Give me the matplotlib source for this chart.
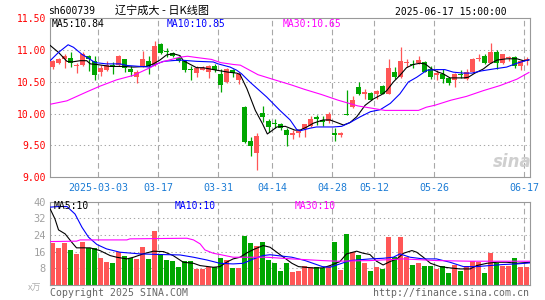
import numpy as np
import matplotlib
matplotlib.use('Agg')
import matplotlib.pyplot as plt

# dagkoersen sh600739, 2025-02-19 t/m 2025-06-17 (80 handelsdagen)
opens = [10.73, 10.80, 10.85, 10.875, 10.745, 10.76, 10.90, 10.82, 10.65, 10.69,
         10.765, 10.76, 10.85, 10.70, 10.575, 10.75, 10.82, 10.76, 11.09, 10.975,
         10.95, 10.88, 10.82, 10.70, 10.64, 10.69, 10.66, 10.75, 10.625, 10.495,
         10.68, 10.52, 10.10, 9.57, 9.375, 10.01, 9.885, 9.86, 9.83, 9.74,
         9.66, 9.70, 9.755, 9.80, 9.95, 9.90, 9.88, 9.70, 9.66, 10.00,
         10.10, 10.41, 10.30, 10.32, 10.31, 10.43, 10.31, 10.66, 10.575, 10.79,
         10.78, 10.79, 10.81, 10.70, 10.60, 10.625, 10.555, 10.52, 10.625, 10.545,
         10.65, 10.85, 10.90, 10.80, 10.97, 10.80, 10.87, 10.885, 10.74, 10.84]
highs = [10.84, 10.875, 10.94, 10.96, 10.80, 10.96, 10.92, 10.91, 10.755, 10.82,
         10.81, 10.92, 10.86, 10.74, 10.69, 10.98, 10.90, 11.135, 11.10, 11.035,
         10.97, 10.90, 10.83, 10.745, 10.74, 10.74, 10.755, 10.78, 10.70, 10.72,
         10.70, 10.65, 10.12, 9.635, 9.70, 10.115, 9.92, 9.92, 9.845, 9.77,
         9.74, 9.76, 9.84, 9.96, 9.98, 9.96, 10.02, 9.77, 9.71, 10.375,
         10.28, 10.495, 10.39, 10.34, 10.375, 10.445, 10.86, 10.73, 11.04, 10.86,
         10.845, 10.91, 10.82, 10.74, 10.69, 10.70, 10.58, 10.635, 10.68, 10.70,
         10.88, 10.93, 10.93, 11.10, 10.99, 10.94, 10.91, 10.90, 10.84, 10.89]
lows = [10.70, 10.78, 10.71, 10.73, 10.635, 10.75, 10.67, 10.53, 10.595, 10.67,
        10.62, 10.75, 10.645, 10.595, 10.48, 10.73, 10.625, 10.745, 10.94, 10.89,
        10.885, 10.81, 10.66, 10.53, 10.57, 10.68, 10.56, 10.66, 10.34, 10.48,
        10.57, 10.47, 9.545, 9.34, 9.115, 9.87, 9.71, 9.77, 9.74, 9.495,
        9.60, 9.625, 9.63, 9.79, 9.82, 9.81, 9.86, 9.57, 9.635, 9.97,
        10.09, 10.285, 10.235, 10.21, 10.235, 10.30, 10.30, 10.545, 10.555, 10.73,
        10.72, 10.78, 10.65, 10.545, 10.53, 10.485, 10.445, 10.415, 10.555, 10.52,
        10.64, 10.82, 10.78, 10.79, 10.70, 10.78, 10.83, 10.72, 10.68, 10.77]
closes = [10.83, 10.85, 10.90, 10.80, 10.755, 10.93, 10.86, 10.61, 10.715, 10.76,
          10.74, 10.90, 10.72, 10.65, 10.66, 10.85, 10.75, 11.06, 10.95, 10.96,
          10.91, 10.83, 10.68, 10.68, 10.71, 10.72, 10.74, 10.68, 10.445, 10.70,
          10.64, 10.625, 9.555, 9.495, 9.646, 9.94, 9.79, 9.84, 9.78, 9.66,
          9.69, 9.73, 9.83, 9.92, 9.91, 9.87, 9.99, 9.66, 9.70, 9.98,
          10.21, 10.30, 10.34, 10.22, 10.355, 10.31, 10.715, 10.575, 10.825, 10.81,
          10.77, 10.845, 10.66, 10.575, 10.635, 10.545, 10.475, 10.625, 10.61, 10.65,
          10.86, 10.87, 10.80, 10.965, 10.80, 10.93, 10.885, 10.74, 10.82, 10.86]

# volume (x万)
vols = [20.0, 17.6, 20.0, 16.6, 14.7, 20.5, 17.8, 17.6, 13.1, 11.0,
        10.4, 16.0, 14.1, 12.8, 12.3, 18.1, 12.3, 25.8, 14.6, 12.0,
        11.4, 8.5, 11.7, 11.7, 7.5, 7.5, 8.5, 8.5, 12.8, 12.2,
        8.0, 8.0, 23.4, 20.0, 18.9, 20.5, 12.0, 10.4, 6.9, 10.4,
        6.4, 6.9, 9.1, 8.6, 8.6, 8.3, 9.0, 20.8, 7.4, 24.6,
        15.8, 14.6, 10.7, 6.9, 8.8, 7.8, 23.2, 13.4, 23.2, 13.3,
        9.8, 10.7, 9.3, 9.3, 7.8, 9.3, 5.9, 9.8, 6.9, 9.1,
        11.5, 10.9, 5.9, 15.5, 10.4, 9.3, 9.3, 13.1, 8.8, 8.8]

# datumlabels (index van de handelsdag)
tick_idx = [8, 18, 28, 37, 47, 54, 64, 79]
tick_labels = ['2025-03-03', '03-17', '03-31', '04-14', '04-28', '05-12', '05-26', '06-17']

# gemiddelde lijnen (index, waarde)
ma5_x = [-0.4, 1, 2.4, 3.2, 4.6, 5.7, 6.3, 7.4, 9.6, 11.8, 13.5, 15.7, 16.8, 17.9, 19, 20.1,
         21.25, 21.8, 24, 25.1, 27.4, 29.3, 30.7, 31.25, 32.4, 33.8, 35, 35.8, 36.25, 37.4,
         38.8, 39.6, 40.4, 41.25, 42.4, 43.5, 45.1, 46.25, 47.4, 48.5, 49.6, 50.7, 52.1,
         53.5, 54.9, 55.7, 56.8, 57.9, 59, 60.1, 61.25, 62.1, 63.2, 64.3, 65.1, 66.25,
         67.4, 68.5, 69.3, 70.4, 71.8, 72.9, 74.1, 75.7, 77.4, 78.5, 79.4]
ma5_y = [11.07, 10.96, 10.82, 10.81, 10.83, 10.83, 10.78, 10.77, 10.74, 10.74, 10.73, 10.74,
         10.78, 10.84, 10.92, 10.94, 10.91, 10.83, 10.72, 10.72, 10.68, 10.65, 10.635, 10.615,
         10.39, 10.05, 9.84, 9.68, 9.71, 9.79, 9.80, 9.77, 9.74, 9.74, 9.79, 9.85, 9.90, 9.90,
         9.86, 9.82, 9.86, 9.95, 10.13, 10.23, 10.30, 10.36, 10.495, 10.60, 10.72, 10.77,
         10.79, 10.78, 10.70, 10.65, 10.625, 10.56, 10.56, 10.56, 10.57, 10.635, 10.70, 10.78,
         10.84, 10.86, 10.86, 10.83, 10.84]
ma10_x = [-0.4, 1, 2.6, 3.5, 4.9, 5.7, 7.1, 9, 11.25, 12.4, 14.6, 16.25, 17.4, 18.5, 21.25,
          24, 26.8, 27.6, 29.6, 30.7, 31.5, 32.9, 35.7, 37.9, 39.6, 40.7, 41.25, 42.9, 44,
          46.8, 48.2, 49.6, 51.3, 53, 54.6, 56.3, 57.9, 59.3, 60.7, 62.4, 64.0, 65.4, 66.8,
          68.5, 69.9, 71.5, 73.5, 75.7, 77.4, 79.4]
ma10_y = [10.83, 10.96, 11.08, 11.04, 10.93, 10.885, 10.80, 10.78, 10.78, 10.755, 10.74,
          10.73, 10.78, 10.82, 10.84, 10.82, 10.81, 10.78, 10.73, 10.68, 10.625, 10.495,
          10.26, 10.05, 9.90, 9.75, 9.73, 9.77, 9.79, 9.79, 9.80, 9.86, 9.95, 10.03, 10.06,
          10.16, 10.31, 10.495, 10.57, 10.68, 10.69, 10.69, 10.65, 10.635, 10.635, 10.67,
          10.70, 10.73, 10.79, 10.845]
ma30_x = [-0.4, 2.4, 5.7, 7.9, 10.7, 13.5, 16.25, 17.9, 19.6, 21.25, 22.5, 24, 26.5, 28,
          30.2, 31.3, 34.25, 37, 39.8, 42, 44.8, 47.6, 50.9, 53.5, 55.4, 61, 62.3, 63.7,
          66.4, 69, 71.8, 74.6, 77.4, 79.4]
ma30_y = [10.146, 10.20, 10.34, 10.43, 10.53, 10.60, 10.72, 10.80, 10.845, 10.885, 10.90,
          10.88, 10.85, 10.80, 10.77, 10.76, 10.61, 10.53, 10.45, 10.38, 10.30, 10.21,
          10.12, 10.08, 10.05, 10.05, 10.10, 10.13, 10.21, 10.27, 10.36, 10.44, 10.54, 10.645]

vma5_x = [-0.4, 0.4, 1, 2.1, 3.2, 4, 6.25, 7.9, 9.6, 10.7, 12.4, 13.5, 15.1, 16.8, 18.5,
          20.1, 21.8, 23.5, 24.6, 26.8, 27.9, 29, 30.1, 31.25, 32.4, 33.5, 35.1, 36.25,
          37.9, 39.9, 41, 43.3, 45, 46.25, 47.9, 49, 50.7, 51.8, 52.9, 54, 55.1, 56.25,
          57.4, 58.5, 59.9, 60.7, 61.8, 63, 64.6, 66.25, 67.9, 69.6, 70.7, 72.4, 74.1,
          75.7, 77.4, 79.6]
vma5_y = [36.5, 31.7, 26.4, 24.5, 20.5, 17.8, 17.8, 16.5, 14.1, 13.3, 12.5, 13.3, 14.9,
          16.2, 16.0, 14.1, 10.9, 10.4, 9.3, 8.5, 8.8, 10.9, 12.5, 13.3, 15.4, 17.0, 18.9,
          18.1, 14.6, 10.4, 8.8, 8.2, 8.2, 9.3, 11.2, 14.9, 16.2, 15.2, 14.6, 11.4, 9.6,
          11.2, 12.5, 15.2, 16.5, 15.7, 13.3, 10.4, 8.8, 8.2, 7.7, 7.7, 9.3, 10.4, 10.9,
          10.9, 10.4, 10.9]
vma10_x = [-0.4, 1, 2.4, 3.75, 4.9, 6, 7.4, 9, 11.25, 14.6, 17.9, 21.25, 23.5, 25.7, 27.9,
           30.1, 31.8, 33.5, 35.1, 36.25, 39.9, 42.1, 45, 46.25, 47.9, 49.6, 52.9, 55.1,
           56.8, 57.9, 59.6, 61.8, 64, 66.25, 68.5, 70.7, 72.8, 75, 77.4, 79.6]
vma10_y = [37.3, 37.6, 37.6, 34.0, 27.7, 22.9, 19.4, 17.3, 15.7, 14.9, 14.6, 14.4, 13.3,
           12.0, 10.4, 10.1, 10.4, 12.5, 14.1, 14.5, 13.3, 11.7, 8.8, 8.5, 10.1, 11.7, 12.5,
           12.8, 13.3, 14.9, 13.3, 12.5, 12.5, 10.9, 8.8, 8.8, 9.3, 9.8, 10.1, 10.6]
vma30_x = [-0.4, 4, 4.6, 12.4, 12.9, 22.4, 23.5, 24.6, 25.4, 26.8, 27.9, 30.1, 35.7, 39.9,
           45, 47.4, 52.9, 58.5, 64, 69.6, 79.6]
vma30_y = [20.8, 21.0, 21.6, 21.6, 22.1, 22.4, 21.6, 19.7, 16.8, 15.2, 14.6, 13.3, 13.3,
           12.5, 11.7, 11.4, 11.7, 12.5, 11.7, 11.4, 11.4]

W, H = 545, 300
ROOD = '#ff5656'
GROEN = '#00a600'
GRIJS = '#a8a8a8'
MONO = 'DejaVu Sans Mono'

opens = np.array(opens)
closes = np.array(closes)
x = np.arange(len(closes))
kleur = np.where(closes >= opens, ROOD, GROEN)

fig = plt.figure(figsize=(W / 100, H / 100), dpi=100)


def px(l, t, r, b):
    # rechthoek in pixels -> figuurfracties
    return [l / W, 1 - b / H, (r - l) / W, (b - t) / H]


def tekst(xp, yp, s, **kw):
    kw.setdefault('family', MONO)
    kw.setdefault('fontsize', 7)
    kw.setdefault('va', 'center')
    fig.text(xp / W, 1 - yp / H, s, **kw)


ax = fig.add_axes(px(50, 18, 529.5, 177.3))
axv = fig.add_axes(px(50, 201.5, 529.5, 285))

grid_x = [i - 0.4 for i in tick_idx]

for a in (ax, axv):
    a.set_xlim(-0.42, 79.5)
    for s in a.spines.values():
        s.set_color('#999999')
        s.set_linewidth(0.8)
    for g in grid_x:
        a.axvline(g, color=GRIJS, lw=0.8, ls=(0, (5, 3)), zorder=0)

# --- koersgrafiek ---
for v in [9.5, 10.0, 10.5, 11.0]:
    ax.axhline(v, color=GRIJS, lw=0.75, ls=(0, (1.3, 2.7)), zorder=0)

ax.vlines(x, lows, highs, colors=kleur, lw=0.9, zorder=2)
body_h = np.maximum(np.abs(closes - opens), 0.007)
ax.bar(x, body_h, bottom=np.minimum(opens, closes), width=0.82, color=kleur, lw=0, zorder=3)

ax.plot(ma5_x, ma5_y, color='black', lw=0.8, zorder=4)
ax.plot(ma10_x, ma10_y, color='#0000ff', lw=0.8, zorder=4)
ax.plot(ma30_x, ma30_y, color='#ff00ff', lw=0.8, zorder=4)

ax.set_ylim(9.0, 11.5)
ax.set_yticks([9.0, 9.5, 10.0, 10.5, 11.0, 11.5])
ax.set_yticklabels(['%.2f' % v for v in [9.0, 9.5, 10.0, 10.5, 11.0, 11.5]],
                   family=MONO, fontsize=7)
ax.tick_params(axis='y', length=0, pad=3, colors='#ff0000')
ax.set_xticks(grid_x)
ax.set_xticklabels(tick_labels, family=MONO, fontsize=7.2)
ax.tick_params(axis='x', length=0, pad=4, colors='#1c7cd5')

# --- volume ---
for v in [8, 16, 24, 32]:
    axv.axhline(v, color=GRIJS, lw=0.75, ls=(0, (1.3, 2.7)), zorder=0)
axv.bar(x, vols, width=0.82, color=kleur, lw=0, zorder=2)
axv.plot(vma5_x, vma5_y, color='black', lw=0.8, zorder=4)
axv.plot(vma10_x, vma10_y, color='#0000ff', lw=0.8, zorder=4)
axv.plot(vma30_x, vma30_y, color='#ff00ff', lw=0.8, zorder=4)
axv.set_ylim(0, 40)
axv.set_yticks([8, 16, 24, 32, 40])
axv.set_yticklabels(['8', '16', '24', '32', '40'], family=MONO, fontsize=7.5)
axv.tick_params(axis='y', length=0, pad=3, colors='#a0a0a0')
axv.set_xticks([])

# --- teksten ---
tekst(48, 11, 'sh600739')
tekst(115, 10.5, '辽宁成大 - 日K线图', family=['Noto Sans CJK SC', 'DejaVu Sans'], fontsize=8)
tekst(507, 12, '2025-06-17 15:00:00', ha='right')

tekst(52, 24, 'MA5:10.84', color='black')
tekst(167, 24, 'MA10:10.85', color='#0000ff')
tekst(283, 24, 'MA30:10.65', color='#ff00ff')

tekst(54, 206, 'MA5:10', color='black')
tekst(175, 206, 'MA10:10', color='#0000ff')
tekst(295, 206, 'MA30:10', color='#ff00ff')

tekst(28, 288, 'x万', color='#b0b0b0', family=['Noto Sans CJK SC', 'DejaVu Sans'], fontsize=6.5)
tekst(50, 293, 'Copyright 2025 SINA.COM', color='#666666', fontsize=7.1)
tekst(529, 293, 'http://finance.sina.com.cn', color='#666666', fontsize=7.1, ha='right')

# sina watermerk
tekst(512, 162, 'sina', color='#cfcfcf', family='DejaVu Sans', fontsize=12,
      style='italic', weight='bold', ha='center')

fig.savefig('out.png', dpi=100)
